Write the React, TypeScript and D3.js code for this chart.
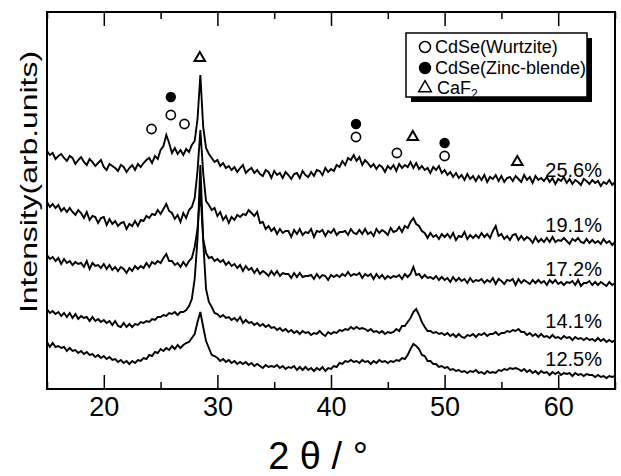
import React, { useEffect, useRef } from "react";
import * as d3 from "d3";

// 2theta grid of the scans: 15..65 deg, step 0.25
const thetaStart = 15;
const thetaStep = 0.25;

// intensities (arb. units, already offset for stacking)
const s256 = [
  238,234,236,230,233,235,231,228, 233,231,225,229,232,227,224,230,
  227,223,226,229,222,219,225,223, 221,218,224,222,217,221,224,219,
  225,222,226,229,231,226,233,230, 239,243,254,246,236,241,235,239,
  234,240,237,244,248,270,314,262, 241,235,231,227,229,223,226,221,
  223,219,222,217,221,224,216,219, 221,216,219,215,213,219,217,211,
  218,214,216,211,217,214,210,215, 216,211,218,214,212,217,213,219,
  218,214,221,217,220,218,224,222, 228,224,231,229,234,228,232,224,
  229,226,222,225,220,224,222,217, 223,220,224,218,225,221,224,222,
  227,221,226,220,223,219,221,216, 222,219,223,216,219,214,217,212,
  216,211,214,209,215,210,213,208, 213,209,214,207,212,210,214,208,
  213,207,211,212,208,213,210,207, 214,209,212,206,213,209,211,208,
  212,207,211,205,210,208,212,206, 210,205,209,207,204,210,208,205,
  209,206,208,203,207,205,209,204, 207,
];
const s191 = [
  187,182,185,181,184,178,181,177, 181,177,174,179,176,171,177,169,
  173,172,166,171,172,164,170,165, 168,163,166,167,160,165,163,168,
  163,169,168,173,171,175,174,179, 175,180,185,178,176,170,174,167,
  176,171,179,182,191,218,259,216, 188,184,179,181,173,177,169,173,
  166,172,169,174,172,175,174,179, 176,173,177,166,167,160,163,158,
  161,155,160,156,158,158,152,159, 155,160,154,157,156,160,152,158,
  157,159,153,158,156,160,154,157, 157,158,154,160,156,155,159,155,
  160,155,157,153,160,156,159,157, 154,161,157,158,162,157,163,161,
  167,171,165,163,158,156,151,156, 152,154,150,155,152,155,151,156,
  149,153,152,157,150,154,151,154, 151,156,152,155,151,158,163,153,
  155,150,153,149,154,155,149,153, 149,152,150,146,152,147,150,147,
  151,147,152,147,149,148,151,148, 145,150,148,151,147,146,150,146,
  149,146,148,145,150,146,148,144, 147,
];
const s172 = [
  134,130,132,128,131,125,130,126, 128,124,127,125,126,122,128,120,
  126,123,124,121,125,120,124,119, 122,118,122,120,116,121,118,123,
  120,123,121,126,122,127,125,128, 126,131,135,128,128,124,126,122,
  127,123,128,131,142,160,199,150, 136,131,132,128,130,127,129,124,
  127,123,125,121,124,118,123,119, 121,116,120,115,118,116,113,118,
  114,118,113,116,115,115,111,116, 112,116,112,113,113,114,110,115,
  111,114,113,109,114,112,114,112, 115,113,117,113,115,114,116,111,
  115,113,115,110,115,111,114,110, 113,111,113,112,114,110,115,112,
  115,122,114,115,111,114,111,112, 110,113,109,112,109,111,107,112,
  108,111,108,110,106,111,107,109, 108,110,106,109,107,111,105,110,
  108,105,109,108,110,104,110,106, 109,107,105,109,106,109,106,108,
  104,109,106,109,105,107,104,107, 106,108,104,109,103,106,106,108,
  104,107,104,107,105,103,107,104, 106,
];
const s141 = [
  80,76,78,75,77,73,76,72, 76,71,75,70,73,71,72,68,
  72,68,70,67,69,66,68,64, 68,63,62,66,62,65,62,65,
  64,67,66,68,67,70,69,72, 72,74,73,76,75,77,74,77,
  77,79,83,90,110,150,224,148, 100,87,82,76,75,72,74,71,
  72,69,71,68,72,66,69,66, 67,64,66,63,65,62,64,61,
  62,59,61,58,60,57,59,56, 58,55,58,56,57,54,56,55,
  58,55,53,57,55,57,56,59, 58,60,59,62,60,62,60,61,
  60,58,60,57,58,56,58,55, 57,56,57,60,58,63,63,67,
  71,77,80,74,67,62,58,58, 56,57,55,56,54,56,53,55,
  52,55,52,51,54,53,55,52, 55,54,56,53,55,55,57,54,
  56,56,58,57,59,58,60,57, 57,54,56,53,55,52,55,52,
  53,51,54,51,52,50,53,51, 52,49,52,50,51,49,51,49,
  50,48,51,48,50,47,49,47, 49,
];
const s125 = [
  47,42,46,42,43,41,42,38, 41,38,39,36,38,35,37,34,
  35,32,34,31,33,30,32,29, 30,27,29,26,28,25,28,26,
  29,28,31,30,34,33,37,36, 40,38,41,39,43,40,44,41,
  44,46,47,51,55,67,77,62, 48,41,34,33,31,28,30,27,
  29,26,28,25,27,25,27,24, 26,23,25,23,21,24,22,23,
  22,24,21,23,20,22,21,23, 19,22,19,22,19,21,18,21,
  19,22,18,21,20,23,22,26, 25,28,27,29,27,28,26,29,
  27,28,25,28,26,29,27,28, 26,28,27,29,28,31,30,34,
  40,45,43,40,34,33,28,28, 25,25,22,23,21,22,19,20,
  18,19,17,18,16,18,17,19, 16,17,15,18,16,17,16,19,
  18,20,19,21,20,21,20,18, 20,17,19,16,18,15,18,16,
  17,14,17,15,17,14,16,15, 16,13,16,14,15,13,15,14,
  14,12,14,12,13,11,13,12, 13,
];

const sampleLabels = ["25.6%", "19.1%", "17.2%", "14.1%", "12.5%"];
const sampleLabelLevels = [212, 157, 113, 61, 23];

// peak assignment markers: angle, level
const wurtziteAngles = [24.2, 25.9, 27.1, 42.2, 45.8, 50.0];
const wurtziteLevels = [260, 274, 265, 252, 236, 233];
const zincBlendeAngles = [25.9, 42.2, 50.0];
const zincBlendeLevels = [292, 265, 246];
const caf2Angles = [28.45, 47.2, 56.4];
const caf2Levels = [331, 252, 227];

const xTicksMajor = [20, 30, 40, 50, 60];
const xTicksMinor = [15, 25, 35, 45, 55, 65];

const FONT = "'Liberation Sans', Arial, Helvetica, sans-serif";

function App() {
  const svgRef = useRef<SVGSVGElement>(null);

  useEffect(() => {
    document.body.style.margin = "0";
    const svg = d3.select(svgRef.current);
    svg.selectAll("*").remove();

    const left = 47, right = 615, top = 12, bottom = 389;

    const x = d3.scaleLinear().domain([15, 65]).range([left, right]);
    const y = d3.scaleLinear().domain([0, bottom - top]).range([bottom, top]);

    const line = d3
      .line<number>()
      .x((d, i) => x(thetaStart + i * thetaStep))
      .y((d) => y(d));

    const allSeries = [s256, s191, s172, s141, s125];

    svg
      .append("g")
      .selectAll("path")
      .data(allSeries)
      .enter()
      .append("path")
      .attr("d", (d) => line(d))
      .attr("fill", "none")
      .attr("stroke", "#000")
      .attr("stroke-width", 1.9)
      .attr("stroke-linejoin", "miter");

    // frame
    svg
      .append("rect")
      .attr("x", left)
      .attr("y", top)
      .attr("width", right - left)
      .attr("height", bottom - top)
      .attr("fill", "none")
      .attr("stroke", "#000")
      .attr("stroke-width", 2);

    // bottom axis, ticks pointing inward
    const axisB = svg.append("g").attr("transform", `translate(0,${bottom})`);
    axisB
      .call(
        d3.axisBottom(x).tickValues(xTicksMajor).tickSize(-14).tickFormat(d3.format("d"))
      )
      .call((g) => g.select(".domain").remove());
    axisB.selectAll(".tick line").attr("stroke", "#000").attr("stroke-width", 1.5);
    axisB
      .selectAll(".tick text")
      .attr("y", 27)
      .attr("dy", 0)
      .attr("font-size", 27)
      .attr("font-family", FONT)
      .attr("fill", "#000");

    axisB
      .append("g")
      .call(d3.axisBottom(x).tickValues(xTicksMinor).tickSize(-7).tickFormat(() => ""))
      .call((g) => g.select(".domain").remove())
      .selectAll(".tick line")
      .attr("stroke", "#000")
      .attr("stroke-width", 1.5);

    // top axis, ticks pointing inward
    const axisT = svg.append("g").attr("transform", `translate(0,${top})`);
    axisT
      .call(d3.axisTop(x).tickValues(xTicksMajor).tickSize(-14).tickFormat(() => ""))
      .call((g) => g.select(".domain").remove());
    axisT
      .append("g")
      .call(d3.axisTop(x).tickValues(xTicksMinor).tickSize(-7).tickFormat(() => ""))
      .call((g) => g.select(".domain").remove());
    axisT.selectAll(".tick line").attr("stroke", "#000").attr("stroke-width", 1.5);

    // axis titles
    svg
      .append("text")
      .attr("x", 318)
      .attr("y", 469)
      .attr("text-anchor", "middle")
      .attr("font-family", FONT)
      .attr("font-size", 38)
      .text("2 θ / °");

    svg
      .append("text")
      .attr("transform", "translate(37,182) rotate(-90)")
      .attr("text-anchor", "middle")
      .attr("font-family", FONT)
      .attr("font-size", 24)
      .attr("textLength", 262)
      .attr("lengthAdjust", "spacingAndGlyphs")
      .text("Intensity(arb.units)");

    // sample labels
    svg
      .append("g")
      .selectAll("text")
      .data(sampleLabels)
      .enter()
      .append("text")
      .attr("x", 602)
      .attr("y", (d, i) => y(sampleLabelLevels[i]))
      .attr("text-anchor", "end")
      .attr("font-family", FONT)
      .attr("font-size", 20)
      .text((d) => d);

    // peak markers
    const markers = svg.append("g");
    markers
      .selectAll("circle.w")
      .data(wurtziteAngles)
      .enter()
      .append("circle")
      .attr("class", "w")
      .attr("cx", (d) => x(d))
      .attr("cy", (d, i) => y(wurtziteLevels[i]))
      .attr("r", 4.6)
      .attr("fill", "#fff")
      .attr("stroke", "#000")
      .attr("stroke-width", 1.6);
    markers
      .selectAll("circle.z")
      .data(zincBlendeAngles)
      .enter()
      .append("circle")
      .attr("class", "z")
      .attr("cx", (d) => x(d))
      .attr("cy", (d, i) => y(zincBlendeLevels[i]))
      .attr("r", 5.2)
      .attr("fill", "#000");
    const tri = d3.symbol().type(d3.symbolTriangle).size(48);
    markers
      .selectAll("path.c")
      .data(caf2Angles)
      .enter()
      .append("path")
      .attr("class", "c")
      .attr("d", tri())
      .attr("transform", (d, i) => `translate(${x(d)},${y(caf2Levels[i])})`)
      .attr("fill", "#fff")
      .attr("stroke", "#000")
      .attr("stroke-width", 2);

    // legend
    const lg = svg.append("g").attr("transform", "translate(406,33)");
    lg.append("rect").attr("x", 5).attr("y", 5).attr("width", 181).attr("height", 64).attr("fill", "#000");
    lg.append("rect")
      .attr("width", 181)
      .attr("height", 64)
      .attr("fill", "#fff")
      .attr("stroke", "#000")
      .attr("stroke-width", 1.5);
    lg.append("circle").attr("cx", 19).attr("cy", 14).attr("r", 5.5)
      .attr("fill", "#fff").attr("stroke", "#000").attr("stroke-width", 1.5);
    lg.append("circle").attr("cx", 19).attr("cy", 35).attr("r", 6.2).attr("fill", "#000");
    lg.append("path").attr("d", d3.symbol().type(d3.symbolTriangle).size(70)())
      .attr("transform", "translate(19,55)")
      .attr("fill", "#fff").attr("stroke", "#000").attr("stroke-width", 1.5);
    const lt = [
      { t: "CdSe(Wurtzite)", y: 20 },
      { t: "CdSe(Zinc-blende)", y: 41 },
    ];
    lg.selectAll("text.l")
      .data(lt)
      .enter()
      .append("text")
      .attr("class", "l")
      .attr("x", 29)
      .attr("y", (d) => d.y)
      .attr("font-family", FONT)
      .attr("font-size", 18)
      .text((d) => d.t);
    const caf = lg.append("text").attr("x", 31).attr("y", 61)
      .attr("font-family", FONT).attr("font-size", 18);
    caf.append("tspan").text("CaF");
    caf.append("tspan").attr("font-size", 12).attr("dy", 4).text("2");
  }, []);

  return (
    <svg ref={svgRef} width={621} height={476} style={{ display: "block", background: "#fff" }} />
  );
}

export default App;
